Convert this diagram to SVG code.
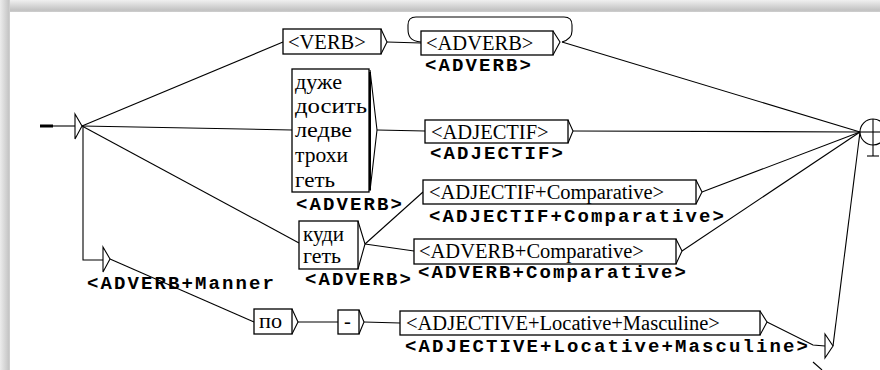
<svg xmlns="http://www.w3.org/2000/svg" width="880" height="370" viewBox="0 0 880 370">
<defs>
<linearGradient id="gTop" x1="0" y1="0" x2="0" y2="1">
<stop offset="0" stop-color="#f0f0f0"/>
<stop offset="0.85" stop-color="#c2c2c2"/>
<stop offset="1" stop-color="#cfcfcf"/>
</linearGradient>
<linearGradient id="gLeft" x1="0" y1="0" x2="1" y2="0">
<stop offset="0" stop-color="#ececec"/>
<stop offset="0.85" stop-color="#c6c6c6"/>
<stop offset="1" stop-color="#d2d2d2"/>
</linearGradient>
<style>
.box{fill:#fff;stroke:#000;stroke-width:1.3}
.ln{fill:none;stroke:#000;stroke-width:1.1}
.tri{fill:#fff;stroke:#000;stroke-width:1.1}
.t{font-family:"Liberation Serif","Times New Roman",serif;font-size:20.5px;fill:#000}
.c{font-family:"Liberation Serif","Times New Roman",serif;font-size:21px;fill:#000}
.o{font-family:"Liberation Mono","Courier New",monospace;font-weight:bold;font-size:19px;letter-spacing:2.1px;fill:#000}
</style>
</defs>
<rect x="0" y="0" width="880" height="370" fill="#fff"/>
<rect x="0" y="0" width="880" height="12" fill="url(#gTop)"/>
<rect x="0" y="0" width="10" height="370" fill="url(#gLeft)"/>

<g id="connectors">
<line class="ln" x1="82" y1="126" x2="283" y2="42"/>
<line class="ln" x1="82" y1="126" x2="292" y2="130"/>
<line class="ln" x1="82" y1="126" x2="299" y2="243"/>
<polyline class="ln" points="83,126 83,260 103,260"/>
<line class="ln" x1="110" y1="259" x2="254" y2="322"/>
<line class="ln" x1="387" y1="42" x2="421" y2="43"/>
<path class="ln" d="M421,42 C410,41 408,36 408,29 L408,25 Q408,17 416,17 L564,17 Q572,17 572,25 L572,31 Q572,39 562,42"/>
<line class="ln" x1="562" y1="42" x2="860" y2="132"/>
<line class="ln" x1="377" y1="130" x2="425" y2="131"/>
<line class="ln" x1="573" y1="131" x2="860" y2="132"/>
<line class="ln" x1="365" y1="244" x2="423" y2="192"/>
<line class="ln" x1="365" y1="244" x2="414" y2="251"/>
<line class="ln" x1="702" y1="192" x2="860" y2="132"/>
<line class="ln" x1="682" y1="251" x2="860" y2="132"/>
<line class="ln" x1="298" y1="322" x2="338" y2="322"/>
<line class="ln" x1="364" y1="322" x2="400" y2="323"/>
<polyline class="ln" points="767,322 813,345 825,346"/>
<line class="ln" x1="833" y1="346" x2="860" y2="132"/>
<line class="ln" x1="813" y1="362" x2="822" y2="370"/>
</g>

<g id="initial">
<line x1="40" y1="126" x2="53" y2="126" stroke="#000" stroke-width="3"/>
<line class="ln" x1="53" y1="126" x2="75" y2="126"/>
<polygon class="tri" points="75,114 82,126 75,139"/>
</g>

<g id="n-verb">
<rect class="box" x="283" y="29" width="98" height="25"/>
<polyline class="ln" points="381,29 387,42 381,54"/>
<text class="t" x="288" y="49">&lt;VERB&gt;</text>
</g>

<g id="n-adverb">
<rect class="box" x="421" y="31" width="132" height="24"/>
<polyline class="ln" points="553,31 560,42 553,55"/>
<text class="t" x="426" y="50">&lt;ADVERB&gt;</text>
<text class="o" x="425" y="71">&lt;ADVERB&gt;</text>
</g>

<g id="n-duzhe">
<rect class="box" x="292" y="69" width="77" height="123"/>
<line x1="370" y1="72" x2="370" y2="190" stroke="#000" stroke-width="2"/>
<polyline class="ln" points="370,70 377,130 370,191"/>
<text class="c" x="295" y="89" textLength="47" lengthAdjust="spacingAndGlyphs">дуже</text>
<text class="c" x="295" y="113" textLength="72" lengthAdjust="spacingAndGlyphs">досить</text>
<text class="c" x="295" y="137" textLength="57" lengthAdjust="spacingAndGlyphs">ледве</text>
<text class="c" x="295" y="162" textLength="53" lengthAdjust="spacingAndGlyphs">трохи</text>
<text class="c" x="295" y="187" textLength="40" lengthAdjust="spacingAndGlyphs">геть</text>
<text class="o" x="296" y="210">&lt;ADVERB&gt;</text>
</g>

<g id="n-adjectif">
<rect class="box" x="425" y="120" width="143" height="23"/>
<polyline class="ln" points="568,120 573,131 568,143"/>
<text class="t" x="431" y="139">&lt;ADJECTIF&gt;</text>
<text class="o" x="430" y="159">&lt;ADJECTIF&gt;</text>
</g>

<g id="n-kudy">
<rect class="box" x="299" y="221" width="59" height="48"/>
<polyline class="ln" points="358,221 365,244 358,269"/>
<text class="c" x="303" y="241" textLength="41" lengthAdjust="spacingAndGlyphs">куди</text>
<text class="c" x="303" y="263" textLength="38" lengthAdjust="spacingAndGlyphs">геть</text>
<text class="o" x="305" y="285">&lt;ADVERB&gt;</text>
</g>

<g id="n-adjcomp">
<rect class="box" x="423" y="180" width="273" height="24"/>
<polyline class="ln" points="696,180 702,192 696,204"/>
<text class="t" x="429" y="199">&lt;ADJECTIF+Comparative&gt;</text>
<text class="o" x="429" y="222">&lt;ADJECTIF+Comparative&gt;</text>
</g>

<g id="n-advcomp">
<rect class="box" x="414" y="239" width="262" height="25"/>
<polyline class="ln" points="676,239 682,251 676,264"/>
<text class="t" x="419" y="258">&lt;ADVERB+Comparative&gt;</text>
<text class="o" x="418" y="278">&lt;ADVERB+Comparative&gt;</text>
</g>

<g id="n-manner">
<polygon class="tri" points="103,247 110,259 103,272"/>
<text class="o" x="87" y="289">&lt;ADVERB+Manner</text>
</g>

<g id="n-po">
<rect class="box" x="254" y="309" width="38" height="25"/>
<polyline class="ln" points="292,309 298,322 292,334"/>
<text class="c" x="259" y="328" textLength="23" lengthAdjust="spacingAndGlyphs">по</text>
</g>

<g id="n-dash">
<rect class="box" x="338" y="310" width="21" height="24"/>
<polyline class="ln" points="359,310 364,322 359,334"/>
<text class="t" x="344" y="328">-</text>
</g>

<g id="n-adjloc">
<rect class="box" x="400" y="311" width="360" height="24"/>
<polyline class="ln" points="760,311 767,322 760,335"/>
<text class="t" x="406" y="330">&lt;ADJECTIVE+Locative+Masculine&gt;</text>
<text class="o" x="405" y="352">&lt;ADJECTIVE+Locative+Masculine&gt;</text>
</g>

<g id="n-eps">
<polygon class="tri" points="825,334 833,346 825,358"/>
</g>

<g id="final">
<circle class="tri" cx="873" cy="132" r="13"/>
<line class="ln" x1="860" y1="132" x2="880" y2="132"/>
<line class="ln" x1="873" y1="119" x2="873" y2="156"/>
<line class="ln" x1="867" y1="156" x2="879" y2="156"/>
</g>
</svg>
